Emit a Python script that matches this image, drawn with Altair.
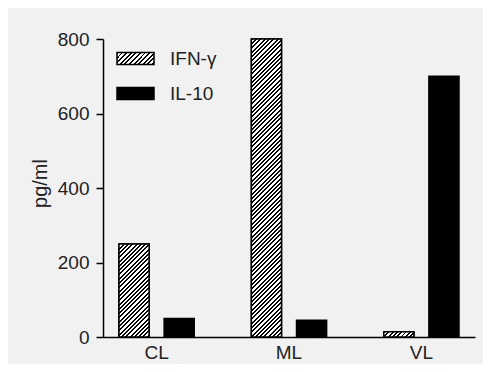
import altair as alt
import pandas as pd

# ---- data ----
groups = ["CL", "ML", "VL"]
series = ["IFN-γ", "IL-10"]
ifn_gamma = [250, 800, 14]
il_10 = [50, 45, 700]
y_ticks = [0, 200, 400, 600, 800]

PLOT_W, PLOT_H = 372, 298
BAR_W = 30.1
FONT = "Liberation Sans"
TXT = "#222222"
FS = 19

rows = []
for g, a, b in zip(groups, ifn_gamma, il_10):
    rows.append({"group": g, "series": series[0], "value": a})
    rows.append({"group": g, "series": series[1], "value": b})
df = pd.DataFrame(rows)


def hatch_expr(w, h, period=4.3, frac=0.45):
    """Diagonal '/' hatching as a sharp-stop linear gradient (bbox units)."""
    L = w + h
    dt = period / L
    stops = []
    k = 0
    while k * dt < 1:
        a = k * dt
        b = min((k + frac) * dt, 1.0)
        c = min((k + 1) * dt, 1.0)
        stops += [(a, "black"), (b, "black"), (b, "white"), (c, "white")]
        k += 1
    d = w * w + h * h
    x2 = w * L / d
    y2 = h * L / d
    s = ",".join("{offset:%.5f,color:'%s'}" % (o, c) for o, c in stops)
    return ("{gradient:'linear',x1:0,y1:0,x2:%.5f,y2:%.5f,stops:[%s]}"
            % (x2, y2, s))


bar_grads = [{"expr": hatch_expr(BAR_W, v / 800 * PLOT_H)} for v in ifn_gamma]
legend_grad = {"expr": hatch_expr(37, 12, period=4.6, frac=0.42)}

x_enc = alt.X("group:N", sort=groups, title=None,
              scale=alt.Scale(paddingInner=0.318, paddingOuter=0.064),
              axis=alt.Axis(labelAngle=0, ticks=False, labelPadding=6,
                            labelFontSize=FS, labelFont=FONT, labelColor=TXT,
                            domainColor="black", domainWidth=1.5))
xo_enc = alt.XOffset("series:N", sort=series,
                     scale=alt.Scale(paddingInner=0.333, paddingOuter=0.1667))
y_enc = alt.Y("value:Q", title="pg/ml",
              scale=alt.Scale(domain=[0, 800], nice=False),
              axis=alt.Axis(values=y_ticks, tickSize=7, tickWidth=1.5,
                            tickColor="black", labelPadding=7,
                            labelFontSize=FS, labelFont=FONT, labelColor=TXT,
                            domainColor="black", domainWidth=1.5,
                            titleFontSize=20, titleFont=FONT, titleColor=TXT,
                            titleFontWeight="normal", titleAngle=-90,
                            titleX=-63, titleY=144, titleAlign="center",
                            titleBaseline="middle"))

base = alt.Chart(df)

bars = base.mark_bar(stroke="black", strokeWidth=1.5).encode(
    x=x_enc, xOffset=xo_enc, y=y_enc,
    color=alt.Color("series:N",
                    scale=alt.Scale(domain=series, range=[legend_grad, "black"]),
                    legend=alt.Legend(title=None, orient="none", legendX=13,
                                      legendY=0, padding=0,
                                      symbolType="M-1,-0.33L1,-0.33L1,0.33L-1,0.33Z",
                                      symbolSize=1369, symbolStrokeColor="black",
                                      symbolStrokeWidth=1.5, symbolOpacity=1,
                                      labelFontSize=FS, labelFont=FONT,
                                      labelColor=TXT, labelOffset=15,
                                      rowPadding=5)),
)

hatched = base.mark_bar(stroke="black", strokeWidth=1.5).encode(
    x=x_enc, xOffset=xo_enc, y=y_enc,
    fill=alt.Fill("group:N",
                  scale=alt.Scale(domain=groups, range=bar_grads),
                  legend=None),
).transform_filter(alt.datum.series == series[0])

chart = alt.layer(bars, hatched).properties(
    width=PLOT_W, height=PLOT_H,
    background="#f1f1f1",
    autosize=alt.AutoSizeParams(type="none"),
    padding={"left": 95, "top": 31, "right": 8, "bottom": 27},
).configure_view(stroke=None).configure_axis(grid=False)

chart.save("out.html", embed_options={"renderer": "svg", "actions": False})
